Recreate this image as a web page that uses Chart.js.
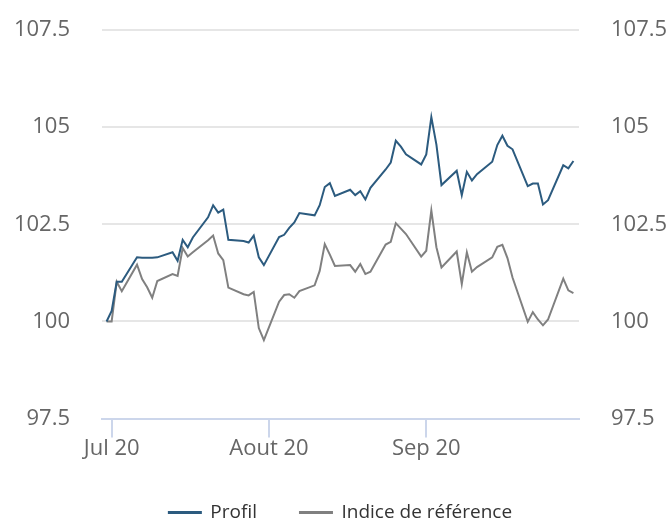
<!DOCTYPE html>
<html>
<head>
<meta charset="utf-8">
<script src="https://cdn.jsdelivr.net/npm/chart.js@4.4.1/dist/chart.umd.min.js"></script>
<style>
    html, body { margin: 0; padding: 0; background: #ffffff; }
    #wrap { width: 672px; height: 520px; }
</style>
</head>
<body>
<div id="wrap"><canvas id="perfChart" width="672" height="520"></canvas></div>
<script>
// Business days, Jun 30 -> Sep 30 2020
const dates = [
    '2020-06-30', '2020-07-01', '2020-07-02', '2020-07-03',
    '2020-07-06', '2020-07-07', '2020-07-08', '2020-07-09', '2020-07-10',
    '2020-07-13', '2020-07-14', '2020-07-15', '2020-07-16', '2020-07-17',
    '2020-07-20', '2020-07-21', '2020-07-22', '2020-07-23', '2020-07-24',
    '2020-07-27', '2020-07-28', '2020-07-29', '2020-07-30', '2020-07-31',
    '2020-08-03', '2020-08-04', '2020-08-05', '2020-08-06', '2020-08-07',
    '2020-08-10', '2020-08-11', '2020-08-12', '2020-08-13', '2020-08-14',
    '2020-08-17', '2020-08-18', '2020-08-19', '2020-08-20', '2020-08-21',
    '2020-08-24', '2020-08-25', '2020-08-26', '2020-08-27', '2020-08-28',
    '2020-08-31', '2020-09-01', '2020-09-02', '2020-09-03', '2020-09-04',
    '2020-09-07', '2020-09-08', '2020-09-09', '2020-09-10', '2020-09-11',
    '2020-09-14', '2020-09-15', '2020-09-16', '2020-09-17', '2020-09-18',
    '2020-09-21', '2020-09-22', '2020-09-23', '2020-09-24', '2020-09-25',
    '2020-09-28', '2020-09-29', '2020-09-30'
];

const profil = [
    100.00, 100.27, 101.02, 101.02,
    101.65, 101.64, 101.64, 101.64, 101.65,
    101.78, 101.56, 102.10, 101.91, 102.16,
    102.68, 102.99, 102.80, 102.88, 102.10,
    102.07, 102.03, 102.21, 101.65, 101.45,
    102.17, 102.23, 102.41, 102.55, 102.79,
    102.73, 102.99, 103.46, 103.56, 103.23,
    103.39, 103.25, 103.35, 103.14, 103.44,
    103.91, 104.09, 104.65, 104.50, 104.30,
    104.04, 104.30, 105.26, 104.55, 103.51,
    103.88, 103.25, 103.85, 103.63, 103.79,
    104.11, 104.54, 104.78, 104.52, 104.43,
    103.48, 103.55, 103.55, 103.01, 103.12,
    104.02, 103.94, 104.13
];

const indice = [
    100.00, 100.00, 101.02, 100.78,
    101.46, 101.09, 100.88, 100.61, 101.04,
    101.22, 101.17, 101.89, 101.67, 101.78,
    102.09, 102.21, 101.75, 101.58, 100.87,
    100.70, 100.67, 100.76, 99.83, 99.52,
    100.51, 100.68, 100.70, 100.61, 100.78,
    100.93, 101.30, 101.99, 101.72, 101.43,
    101.45, 101.28, 101.48, 101.22, 101.28,
    101.98, 102.05, 102.53, 102.39, 102.25,
    101.67, 101.82, 102.86, 101.91, 101.39,
    101.80, 100.96, 101.78, 101.28, 101.40,
    101.65, 101.92, 101.97, 101.63, 101.13,
    99.99, 100.24, 100.05, 99.90, 100.05,
    101.10, 100.80, 100.73
];

const monthTicks = ['2020-07-01', '2020-08-01', '2020-09-01'];
const monthLabels = ['Jul 20', 'Aout 20', 'Sep 20'];
const yTicks = [97.5, 100, 102.5, 105, 107.5];

// days since Jul 1 2020
const origin = Date.UTC(2020, 6, 1);
function dayOf(s) {
    const p = s.split('-').map(Number);
    return (Date.UTC(p[0], p[1] - 1, p[2]) - origin) / 86400000;
}

const tickDays = monthTicks.map(dayOf);

function toPoints(values) {
    return values.map((v, i) => ({ x: dayOf(dates[i]), y: v }));
}

const FONT = "'Open Sans', 'Noto Sans', sans-serif";

function yAxis(position, showGrid, width) {
    return {
        type: 'linear',
        position,
        min: 97.5,
        max: 107.5,
        afterBuildTicks: axis => { axis.ticks = yTicks.map(v => ({ value: v })); },
        afterFit: axis => {
            axis.width = width;
            axis.paddingTop = 0;
            axis.paddingBottom = 0;
        },
        grid: {
            display: showGrid,
            drawOnChartArea: showGrid,
            drawTicks: false,
            color: '#e6e6e6',
            lineWidth: 2
        },
        border: { display: false },
        ticks: {
            padding: 32,
            color: '#666666',
            font: { family: FONT, size: 22 }
        }
    };
}

const ctx = document.getElementById('perfChart').getContext('2d');
new Chart(ctx, {
    type: 'line',
    data: {
        datasets: [
            {
                label: 'Profil',
                data: toPoints(profil),
                borderColor: '#2c5b7f',
                backgroundColor: '#2c5b7f',
                borderWidth: 2,
                pointRadius: 0,
                tension: 0,
                yAxisID: 'y'
            },
            {
                label: 'Indice de référence',
                data: toPoints(indice),
                borderColor: '#808080',
                backgroundColor: '#808080',
                borderWidth: 2,
                pointRadius: 0,
                tension: 0,
                yAxisID: 'y'
            }
        ]
    },
    options: {
        responsive: false,
        animation: false,
        events: [],
        layout: { padding: { top: 30, left: 12, right: 3, bottom: -12 } },
        scales: {
            x: {
                type: 'linear',
                min: -1.9,
                max: 92.1,
                afterBuildTicks: axis => { axis.ticks = tickDays.map(v => ({ value: v })); },
                grid: {
                    drawOnChartArea: false,
                    drawTicks: true,
                    tickLength: 19,
                    color: '#ccd6eb',
                    lineWidth: 2
                },
                border: { display: true, color: '#ccd6eb', width: 2 },
                ticks: {
                    padding: -2,
                    maxRotation: 0,
                    autoSkip: false,
                    color: '#666666',
                    font: { family: FONT, size: 22 },
                    callback: value => monthLabels[tickDays.indexOf(value)]
                }
            },
            y: yAxis('left', true, 90),
            y2: yAxis('right', false, 90)
        },
        plugins: {
            legend: {
                position: 'bottom',
                labels: {
                    boxWidth: 32,
                    boxHeight: 1,
                    padding: 43,
                    color: '#333333',
                    font: { family: FONT, size: 19 }
                }
            },
            tooltip: { enabled: false }
        }
    }
});
</script>
</body>
</html>
